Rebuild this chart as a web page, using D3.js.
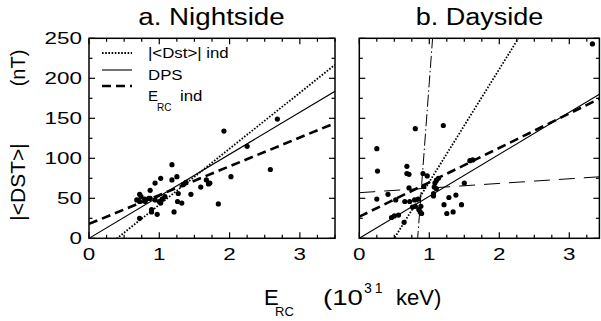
<!DOCTYPE html>
<html>
<head>
<meta charset="utf-8">
<script src="https://cdn.jsdelivr.net/npm/d3@7"></script>
<style>
  html, body { margin: 0; padding: 0; background: #fff; }
  svg { display: block; }
  text { font-family: "Liberation Sans", Arial, Helvetica, sans-serif; fill: #000; }
</style>
</head>
<body>
<svg id="chart" width="601" height="321"></svg>
<script>
// ---------- data ----------
const panelTitles = ["a. Nightside", "b. Dayside"];
const xTickValues = [0, 1, 2, 3];
const yTickValues = [0, 50, 100, 150, 200, 250];

const nightX = [0.68,0.72,0.74,0.72,0.80,0.87,0.87,0.94,1.02,0.94,1.00,1.05,1.02,0.89,0.89,0.97,0.72,1.18,1.25,1.18,1.21,1.26,1.32,1.27,1.34,1.38,1.45,1.59,1.67,1.72,1.70,1.84,2.02,2.58,1.92,2.25,2.68,0.79,1.08,0.85,1.04];
const nightY = [48,55,52,46,46,50,60,69,75,48,46,49,44,36,33,30,25,92,77,73,33,46,44,56,67,70,55,64,73,69,68,43,77,86,134,115,149,49,52,50,49];

const dayX = [0.25,0.26,0.25,0.41,0.52,0.68,0.68,0.71,0.71,0.65,0.72,0.79,0.84,0.80,0.88,0.87,0.89,0.76,0.46,0.50,0.56,0.64,0.91,0.97,0.92,1.06,1.08,1.10,1.13,1.07,1.10,1.06,1.21,1.28,1.38,1.46,1.25,1.34,1.50,1.58,1.62,0.80,1.20,3.33,0.85];
const dayY = [112,84,49,55,48,90,81,80,63,46,46,48,49,40,40,33,31,39,26,28,29,20,81,78,65,56,69,72,75,64,62,53,42,51,54,42,31,33,69,97,98,137,141,243,36];

// fit lines: [slope, intercept]
const nightFits = { dst: [70, -28], dps: [52.5, 0], erc: [36, 18] };
const dayFits = { dst: [141, -70.5], dps: [52.5, 0], erc: [43, 27], dashdot: [1173, -978], longdash: [5.8, 57] };

const legendLabels = ["|<Dst>| ind", "DPS", "E", "RC", "ind"];

// ---------- layout ----------
const svg = d3.select("#chart");
const yScale = d3.scaleLinear().domain([0, 250]).range([238.3, 38.3]);
const xLeft = d3.scaleLinear().domain([0, 3.5]).range([89, 335]);
const xRight = d3.scaleLinear().domain([0, 3.43]).range([359.3, 599.4]);

const styles = {
  dst: { w: 1.8, dash: "1.6,1.6" },
  dps: { w: 1.1, dash: null },
  erc: { w: 2.6, dash: "9,5" },
  dashdot: { w: 1, dash: "12,3,1.5,3" },
  longdash: { w: 1, dash: "16,9" }
};

function stretchText(sel, factor) {
  sel.each(function () {
    const len = this.getComputedTextLength();
    d3.select(this).attr("textLength", len * factor).attr("lengthAdjust", "spacingAndGlyphs");
  });
}

function drawPanel(id, xs, ptsX, ptsY, fits, showYLabels) {
  const g = svg.append("g");
  const [x0, x1] = xs.range();
  const [y0, y1] = yScale.range();

  svg.append("clipPath").attr("id", "clip" + id)
    .append("rect").attr("x", x0).attr("y", y1).attr("width", x1 - x0).attr("height", y0 - y1);

  const plot = g.append("g").attr("clip-path", `url(#clip${id})`);

  // fit lines
  const dom = xs.domain();
  Object.keys(fits).forEach(k => {
    const [m, b] = fits[k];
    const xsamp = [dom[0], dom[1]];
    plot.append("path")
      .attr("d", d3.line().x(d => xs(d)).y(d => yScale(m * d + b))(xsamp))
      .attr("fill", "none").attr("stroke", "#000")
      .attr("stroke-width", styles[k].w)
      .attr("stroke-dasharray", styles[k].dash);
  });

  // points
  plot.selectAll("circle.p").data(d3.range(ptsX.length)).join("circle")
    .attr("cx", i => xs(ptsX[i])).attr("cy", i => yScale(ptsY[i]))
    .attr("r", 2.6).attr("fill", "#000");

  // frame
  g.append("rect").attr("x", x0).attr("y", y1).attr("width", x1 - x0).attr("height", y0 - y1)
    .attr("fill", "none").attr("stroke", "#000").attr("stroke-width", 1.5);

  // ticks (inward, all four sides)
  const xMinor = d3.range(0, dom[1] + 1e-6, 0.25);
  xMinor.forEach(v => {
    const major = Math.abs(v - Math.round(v)) < 1e-6;
    const len = major ? 6 : 3.5;
    g.append("line").attr("x1", xs(v)).attr("x2", xs(v)).attr("y1", y0).attr("y2", y0 - len)
      .attr("stroke", "#000").attr("stroke-width", 1.2);
    g.append("line").attr("x1", xs(v)).attr("x2", xs(v)).attr("y1", y1).attr("y2", y1 + len)
      .attr("stroke", "#000").attr("stroke-width", 1.2);
  });
  d3.range(0, 251, 25).forEach(v => {
    const major = v % 50 === 0;
    const len = major ? 6 : 3.5;
    g.append("line").attr("x1", x0).attr("x2", x0 + len).attr("y1", yScale(v)).attr("y2", yScale(v))
      .attr("stroke", "#000").attr("stroke-width", 1.2);
    g.append("line").attr("x1", x1).attr("x2", x1 - len).attr("y1", yScale(v)).attr("y2", yScale(v))
      .attr("stroke", "#000").attr("stroke-width", 1.2);
  });

  // x tick labels
  const xl = g.selectAll("text.xt").data(xTickValues).join("text")
    .attr("x", d => xs(d)).attr("y", 260).attr("text-anchor", "middle")
    .attr("font-size", 16).text(d => d);
  stretchText(xl, 1.4);

  if (showYLabels) {
    const yl = g.selectAll("text.yt").data(yTickValues).join("text")
      .attr("x", 82).attr("y", d => yScale(d) + 5.8).attr("text-anchor", "end")
      .attr("font-size", 16).text(d => d);
    stretchText(yl, 1.4);
  }
}

drawPanel("L", xLeft, nightX, nightY, nightFits, true);
drawPanel("R", xRight, dayX, dayY, dayFits, false);

// titles
const t1 = svg.append("text").attr("x", 211.5).attr("y", 25).attr("text-anchor", "middle")
  .attr("font-size", 23.5).text(panelTitles[0]);
stretchText(t1, 1.18);
const t2 = svg.append("text").attr("x", 479.5).attr("y", 25).attr("text-anchor", "middle")
  .attr("font-size", 23.5).text(panelTitles[1]);
stretchText(t2, 1.15);

// legend
const leg = svg.append("g");
[["dst", 53], ["dps", 70], ["erc", 86]].forEach(([k, y]) => {
  leg.append("line").attr("x1", 102).attr("x2", 132).attr("y1", y).attr("y2", y)
    .attr("stroke", "#000").attr("stroke-width", styles[k].w)
    .attr("stroke-dasharray", styles[k].dash);
});
const lt1 = leg.append("text").attr("x", 148).attr("y", 58).attr("font-size", 14).text(legendLabels[0]);
stretchText(lt1, 1.2);
const lt2 = leg.append("text").attr("x", 148).attr("y", 80).attr("font-size", 14).text(legendLabels[1]);
stretchText(lt2, 1.2);
leg.append("text").attr("x", 148).attr("y", 101).attr("font-size", 15).text(legendLabels[2]);
leg.append("text").attr("x", 157).attr("y", 111).attr("font-size", 10).text(legendLabels[3]);
const lt5 = leg.append("text").attr("x", 180).attr("y", 101).attr("font-size", 14).text(legendLabels[4]);
stretchText(lt5, 1.2);

// y axis label (rotated)
svg.append("text").attr("transform", "translate(25,182) rotate(-90)")
  .attr("text-anchor", "middle").attr("font-size", 21).text("|<DST>|");
svg.append("text").attr("transform", "translate(25,68) rotate(-90)")
  .attr("text-anchor", "middle").attr("font-size", 20).text("(nT)");

// x axis label
const xlab = svg.append("g");
xlab.append("text").attr("x", 264).attr("y", 305).attr("font-size", 22).text("E");
xlab.append("text").attr("x", 275).attr("y", 316).attr("font-size", 13).text("RC");
const p1 = xlab.append("text").attr("x", 323).attr("y", 305).attr("font-size", 22).text("(10");
stretchText(p1, 1.25);
xlab.append("text").attr("x", 364).attr("y", 293).attr("font-size", 14).attr("letter-spacing", 3).text("31");
xlab.append("text").attr("x", 396).attr("y", 305).attr("font-size", 22).text("keV)");
</script>
</body>
</html>
